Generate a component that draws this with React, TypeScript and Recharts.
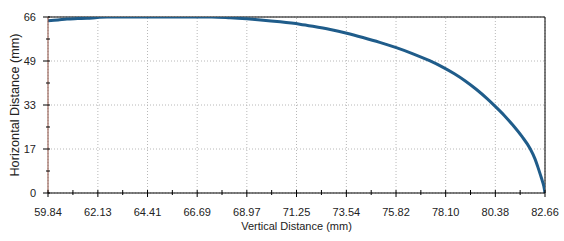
import { CartesianGrid, Label, Line, LineChart, ReferenceLine, XAxis, YAxis } from "recharts";

const verticalDistance = [
  59.84, 60.3, 60.71, 61.2, 61.63, 62.1, 62.55, 64.0, 65.5, 67.36, 68.2, 68.97, 69.6, 70.5,
  71.4, 72.0, 72.8, 73.56, 74.3, 75.07, 75.83, 76.6, 77.36, 77.96, 78.5, 79.0, 79.5, 80.0,
  80.4, 80.8, 81.2, 81.6, 81.98, 82.2, 82.33, 82.45, 82.55, 82.62, 82.66,
];
const horizontalDistance = [
  64.6, 64.9, 65.25, 65.4, 65.5, 65.8, 66.0, 66.0, 66.0, 66.0, 65.7, 65.3, 64.9, 64.2,
  63.3, 62.5, 61.3, 59.9, 58.3, 56.5, 54.5, 52.2, 49.6, 47.2, 44.7, 42.0, 38.9, 35.4,
  32.3, 29.0, 25.3, 21.2, 16.6, 12.8, 9.8, 6.8, 4.2, 2.0, 0,
];

const xTickLabels = ["59.84", "62.13", "64.41", "66.69", "68.97", "71.25", "73.54", "75.82", "78.10", "80.38", "82.66"];
const yTickValues = [0, 16.5, 33, 49.5, 66];
const yTickLabels = ["0", "17", "33", "49", "66"];

const xMajor = xTickLabels.map(Number);
// major ticks with a minor tick halfway between each pair
const withMinor = (major: number[]) =>
  major.flatMap((v, i) => (i < major.length - 1 ? [v, (v + major[i + 1]) / 2] : [v]));
const xTicks = withMinor(xMajor);
const yTicks = withMinor(yTickValues);

const data = verticalDistance.map((x, i) => ({ x, y: horizontalDistance[i] }));

const FONT = "'Liberation Sans', Arial, sans-serif";
const TEXT = "#222";

function XTick({ x, y, index }: any) {
  const major = index % 2 === 0;
  return (
    <g>
      <line x1={x} x2={x} y1={y - 3} y2={y + (major ? 4 : 2)} stroke="#000" />
      {major && (
        <text x={x} y={y + 23} textAnchor="middle" fontSize={11} fontFamily={FONT} fill={TEXT}>
          {xTickLabels[index / 2]}
        </text>
      )}
    </g>
  );
}

function YTick({ x, y, index }: any) {
  const major = index % 2 === 0;
  return (
    <g>
      <line x1={x - (major ? 5 : 2)} x2={x + 2} y1={y} y2={y} stroke="#000" />
      {major && (
        <text x={x - 12} y={y + 4} textAnchor="end" fontSize={11} fontFamily={FONT} fill={TEXT}>
          {yTickLabels[index / 2]}
        </text>
      )}
    </g>
  );
}

export default function App() {
  return (
    <div style={{ position: "absolute", left: 0, top: 0, width: 564, height: 241, background: "#fff" }}>
      <LineChart width={564} height={241} data={data} margin={{ top: 17, right: 19, bottom: 0, left: 0 }}>
        <CartesianGrid horizontal={false} vertical={false} />
        {xMajor.map((v) => (
          <ReferenceLine key={`gx${v}`} x={v} stroke="#b8b8b8" strokeDasharray="1 2" />
        ))}
        {yTickValues.map((v) => (
          <ReferenceLine key={`gy${v}`} y={v} stroke="#b8b8b8" strokeDasharray="1 2" />
        ))}
        <XAxis
          dataKey="x"
          type="number"
          domain={[59.84, 82.66]}
          ticks={xTicks}
          interval={0}
          height={48}
          tickSize={0}
          tickMargin={0}
          tickLine={false}
          axisLine={{ stroke: "#000" }}
          tick={<XTick />}
          allowDataOverflow
        >
          <Label
            value="Vertical Distance (mm)"
            position="insideBottom"
            offset={11}
            style={{ fontSize: 11, fontFamily: FONT, fill: TEXT }}
          />
        </XAxis>
        <YAxis
          dataKey="y"
          type="number"
          domain={[0, 66]}
          ticks={yTicks}
          interval={0}
          width={48}
          tickSize={0}
          tickMargin={0}
          tickLine={false}
          axisLine={{ stroke: "#8a4b3c" }}
          tick={<YTick />}
          allowDataOverflow
        >
          <Label
            value="Horizontal Distance (mm)"
            angle={-90}
            position="insideLeft"
            offset={14}
            style={{ fontSize: 12.7, fontFamily: FONT, fill: TEXT, textAnchor: "middle" }}
          />
        </YAxis>
        <ReferenceLine y={66} stroke="#000" />
        <ReferenceLine x={82.66} stroke="#000" />
        <Line
          dataKey="y"
          type="monotone"
          stroke="#1f5c8a"
          strokeWidth={3}
          dot={false}
          activeDot={false}
          isAnimationActive={false}
        />
      </LineChart>
    </div>
  );
}
